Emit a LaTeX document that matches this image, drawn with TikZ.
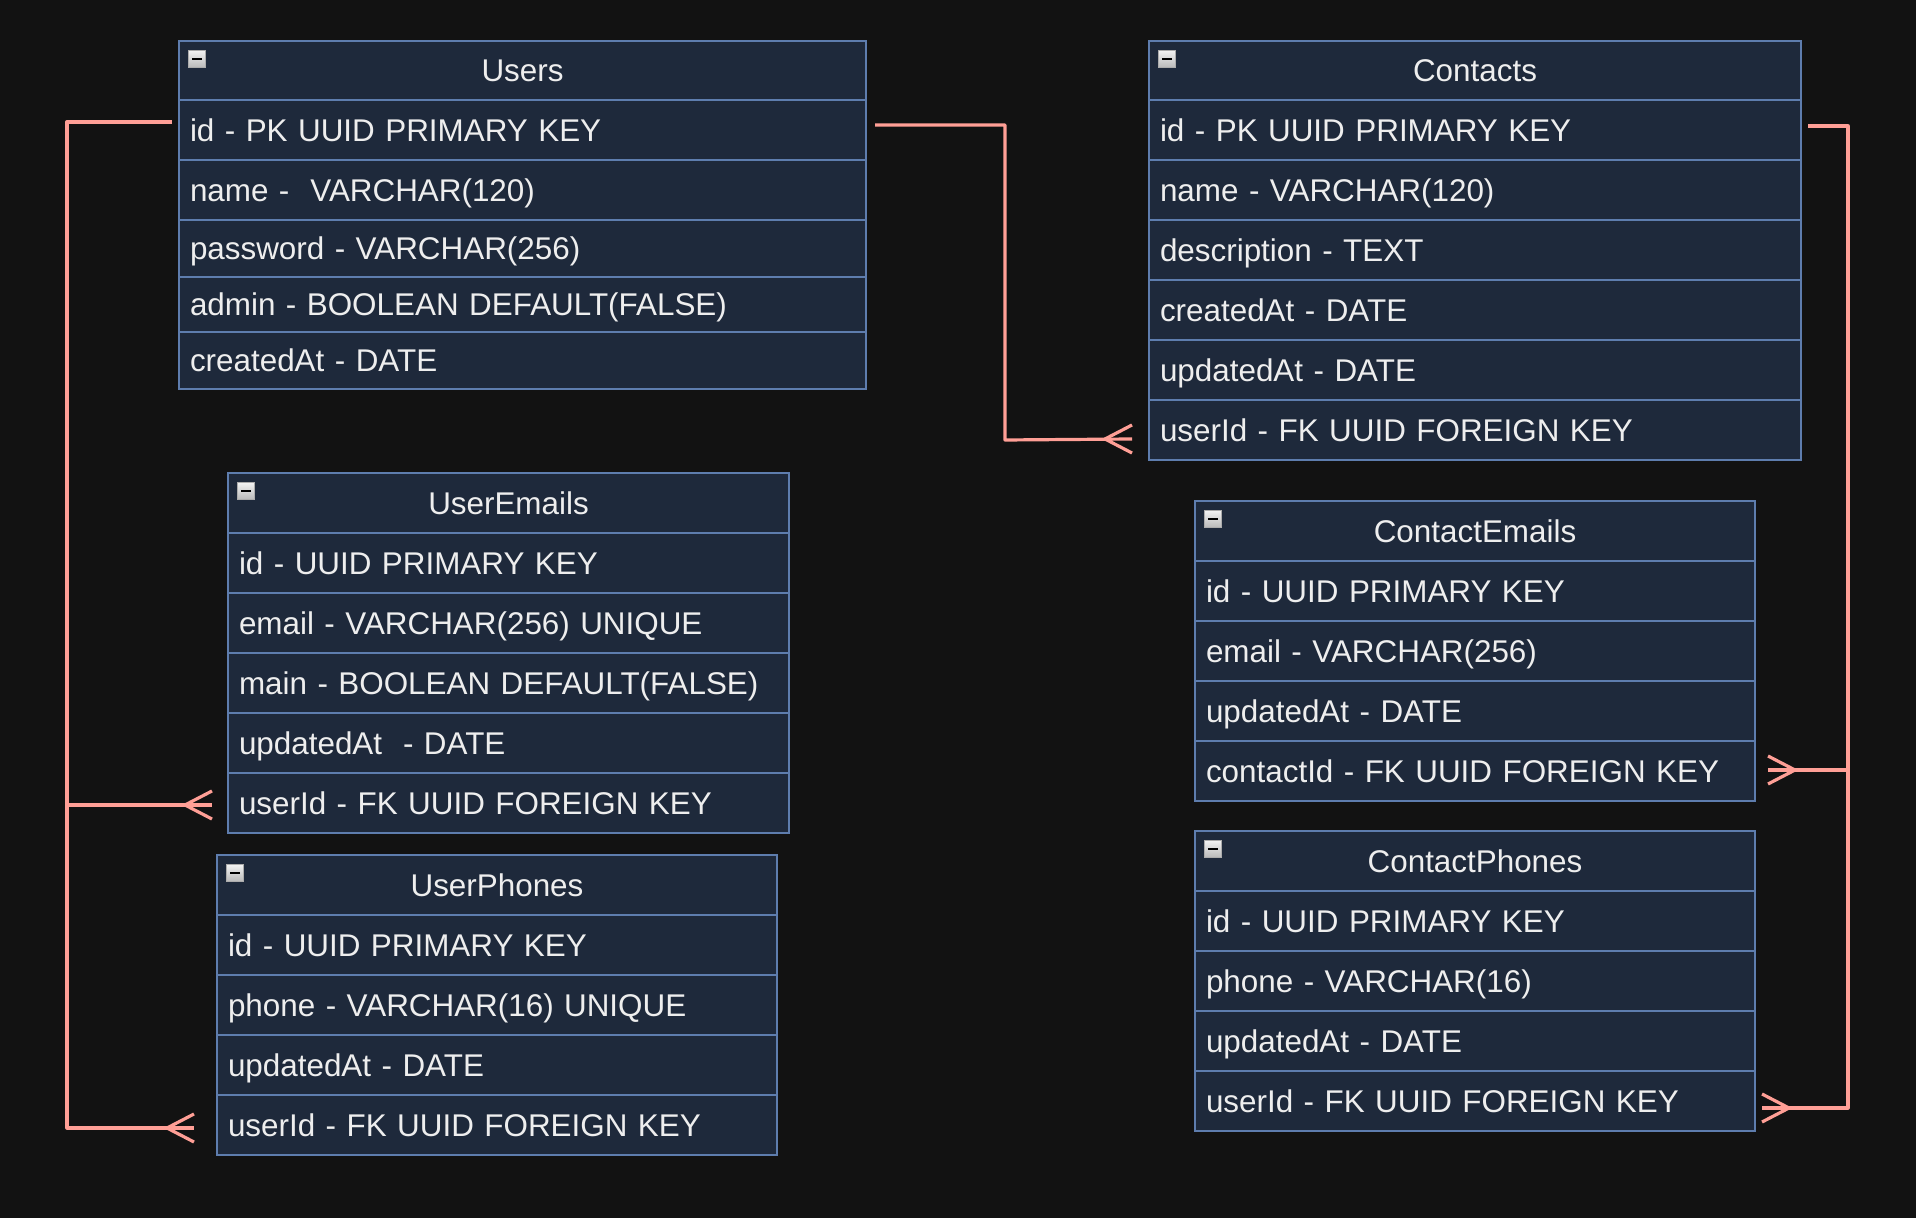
\documentclass[tikz,border=0pt]{standalone}
\usepackage{fontspec}
\setmainfont{Liberation Sans}
\usetikzlibrary{positioning}
\definecolor{bgcol}{HTML}{121212}
\definecolor{tblfill}{HTML}{1E293B}
\definecolor{tblline}{HTML}{5E7DAE}
\definecolor{txtcol}{HTML}{EEEEEE}
\definecolor{relcol}{HTML}{FF9F96}
\tikzset{
  hdr/.style={draw=tblline, fill=tblfill, text=txtcol, line width=1pt, outer sep=0pt,
    inner sep=0pt, font=\fontsize{15.7}{19}\selectfont, text height=11.2pt, text depth=0pt,
    anchor=north west},
  row/.style={hdr, align=left, inner xsep=5.5pt, anchor=north},
  icon/.style={draw=gray!65, line width=0.6pt, top color=gray!10, bottom color=gray!55,
    minimum size=8.5pt, inner sep=0pt, anchor=north west,
    path picture={\draw[black, line width=1.2pt]
      ([xshift=1.8pt]path picture bounding box.west) -- ([xshift=-1.8pt]path picture bounding box.east);}},
  rel/.style={draw=relcol, line width=1.6pt, line join=round},
}
\begin{document}
\begin{tikzpicture}[x=0.5pt,y=-0.5pt]
\fill[bgcol] (0,0) rectangle (1916,1218);
\useasboundingbox (0,0) rectangle (1916,1218);

% Users
\node[hdr, minimum width=343.5pt, minimum height=29.5pt] (users-0) at (179,41) {Users};
\node[icon] (users-icon) at ([shift={(9,9)}]users-0.north west) {};
\foreach \h/\txt [count=\i, evaluate=\i as \j using int(\i-1)] in
  {30/{id - PK UUID PRIMARY KEY}, 30/{name - \ VARCHAR(120)}, 28.5/{password - VARCHAR(256)},
   27.5/{admin - BOOLEAN DEFAULT(FALSE)}, 28.5/{createdAt - DATE}}
  \node[row, text width=332.5pt, minimum height=\h pt, below=0pt of users-\j] (users-\i) {\txt};

% Contacts
\node[hdr, minimum width=326pt, minimum height=29.5pt] (contacts-0) at (1149,41) {Contacts};
\node[icon] (contacts-icon) at ([shift={(9,9)}]contacts-0.north west) {};
\foreach \txt [count=\i, evaluate=\i as \j using int(\i-1)] in
  {{id - PK UUID PRIMARY KEY}, {name - VARCHAR(120)}, {description - TEXT},
   {createdAt - DATE}, {updatedAt - DATE}, {userId - FK UUID FOREIGN KEY}}
  \node[row, text width=315pt, minimum height=30pt, below=0pt of contacts-\j] (contacts-\i) {\txt};

% UserEmails
\node[hdr, minimum width=280.5pt, minimum height=30pt] (useremails-0) at (228,473) {UserEmails};
\node[icon] (useremails-icon) at ([shift={(9,9)}]useremails-0.north west) {};
\foreach \txt [count=\i, evaluate=\i as \j using int(\i-1)] in
  {{id - UUID PRIMARY KEY}, {email - VARCHAR(256) UNIQUE}, {main - BOOLEAN DEFAULT(FALSE)},
   {updatedAt \ - DATE}, {userId - FK UUID FOREIGN KEY}}
  \node[row, text width=269.5pt, minimum height=30pt, below=0pt of useremails-\j] (useremails-\i) {\txt};

% UserPhones
\node[hdr, minimum width=280pt, minimum height=30pt] (userphones-0) at (217,855) {UserPhones};
\node[icon] (userphones-icon) at ([shift={(9,9)}]userphones-0.north west) {};
\foreach \txt [count=\i, evaluate=\i as \j using int(\i-1)] in
  {{id - UUID PRIMARY KEY}, {phone - VARCHAR(16) UNIQUE}, {updatedAt - DATE},
   {userId - FK UUID FOREIGN KEY}}
  \node[row, text width=269pt, minimum height=30pt, below=0pt of userphones-\j] (userphones-\i) {\txt};

% ContactEmails
\node[hdr, minimum width=280pt, minimum height=30pt] (contactemails-0) at (1195,501) {ContactEmails};
\node[icon] (contactemails-icon) at ([shift={(9,9)}]contactemails-0.north west) {};
\foreach \txt [count=\i, evaluate=\i as \j using int(\i-1)] in
  {{id - UUID PRIMARY KEY}, {email - VARCHAR(256)}, {updatedAt - DATE},
   {contactId - FK UUID FOREIGN KEY}}
  \node[row, text width=269pt, minimum height=30pt, below=0pt of contactemails-\j] (contactemails-\i) {\txt};

% ContactPhones
\node[hdr, minimum width=280pt, minimum height=30pt] (contactphones-0) at (1195,831) {ContactPhones};
\node[icon] (contactphones-icon) at ([shift={(9,9)}]contactphones-0.north west) {};
\foreach \txt [count=\i, evaluate=\i as \j using int(\i-1)] in
  {{id - UUID PRIMARY KEY}, {phone - VARCHAR(16)}, {updatedAt - DATE},
   {userId - FK UUID FOREIGN KEY}}
  \node[row, text width=269pt, minimum height=30pt, below=0pt of contactphones-\j] (contactphones-\i) {\txt};

% relation ends
\coordinate (uIdL) at ([shift={(-7,-8)}]users-1.west);
\coordinate (lbus) at (67,122);
\coordinate (ueEnd) at ([shift={(-16,2)}]useremails-5.west);
\coordinate (upEnd) at ([shift={(-23,3)}]userphones-4.west);
\coordinate (uIdR) at ([shift={(9,-5)}]users-1.east);
\coordinate (cMid) at (1005,440);
\coordinate (cFkL) at ([shift={(-17,9)}]contacts-6.west);
\coordinate (cIdR) at ([shift={(7,-4)}]contacts-1.east);
\coordinate (rbus) at (1848,126);
\coordinate (ceEnd) at ([shift={(13,-1)}]contactemails-4.east);
\coordinate (cpEnd) at ([shift={(7,7)}]contactphones-4.east);

\draw[rel] (uIdL) -- (lbus) |- (upEnd);
\draw[rel] (lbus |- ueEnd) -- (ueEnd);
\draw[rel] (uIdR) -| (cMid) -- (cFkL);
\draw[rel] (cIdR) -- (rbus) |- (cpEnd);
\draw[rel] (rbus |- ceEnd) -- (ceEnd);

% crow's feet
\foreach \e/\s in {ueEnd/1, upEnd/1, cFkL/1, ceEnd/-1, cpEnd/-1}
  \draw[rel] (\e) ++(0,-14) -- ++(-27*\s,14) -- ++(27*\s,14);
\end{tikzpicture}
\end{document}
